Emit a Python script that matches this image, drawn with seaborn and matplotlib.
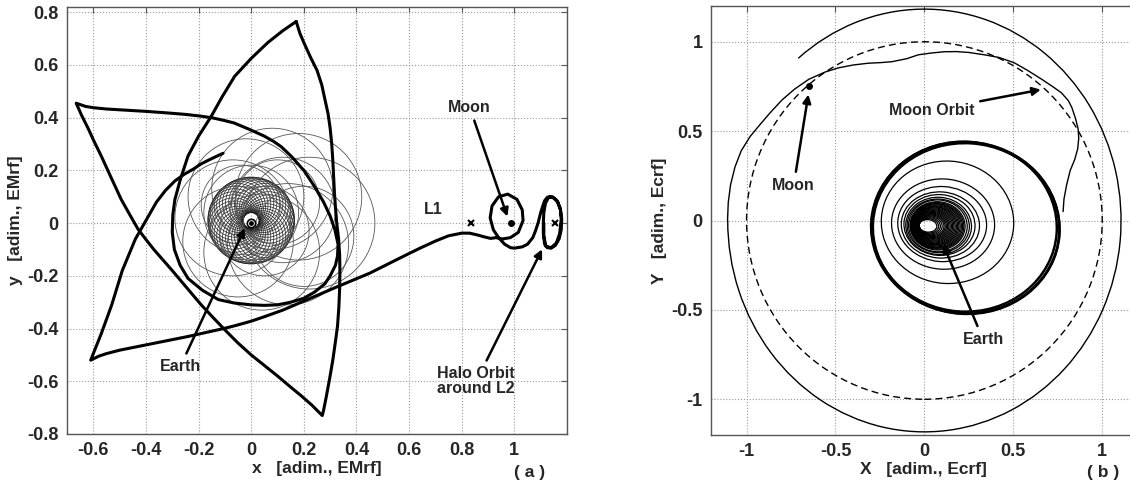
import numpy as np
import pandas as pd
import matplotlib
matplotlib.use("Agg")
import matplotlib.pyplot as plt
from matplotlib.patches import Circle, Ellipse, Arc
import seaborn as sns

# ---------------- panel (a): Earth-Moon rotating frame ----------------
# loop through the three cusps (top -> bottom -> left -> around Earth -> top)
loop_x = [0.171, 0.185, 0.20, 0.225, 0.25, 0.268, 0.28, 0.292, 0.30, 0.306, 0.31, 0.313, 0.316, 0.32, 0.325,
          0.332, 0.336, 0.337, 0.336, 0.333, 0.328, 0.32, 0.31, 0.298, 0.285, 0.275, 0.27,
          0.23, 0.19, 0.145, 0.10, 0.05, 0.0, -0.05, -0.10, -0.145, -0.19, -0.245, -0.30, -0.335, -0.37, -0.40,
          -0.43, -0.462, -0.494, -0.532, -0.57, -0.597, -0.62, -0.645, -0.665,
          -0.63, -0.60, -0.55, -0.50, -0.45, -0.40, -0.33, -0.255, -0.20, -0.15, -0.105, -0.065, -0.01, 0.05,
          0.085, 0.114, 0.152, 0.20, 0.24, 0.275, 0.30, 0.318, 0.33, 0.328, 0.32, 0.30, 0.28, 0.24, 0.20, 0.15,
          0.10, 0.05, 0.0, -0.065, -0.125, -0.185, -0.24, -0.27, -0.292, -0.30, -0.298, -0.29, -0.268, -0.24,
          -0.20, -0.152, -0.11, -0.063, 0.0, 0.063, 0.12, 0.171]
loop_y = [0.765, 0.72, 0.685, 0.63, 0.58, 0.525, 0.47, 0.415, 0.36, 0.30, 0.24, 0.18, 0.12, 0.06, 0.0,
          -0.06, -0.12, -0.18, -0.25, -0.32, -0.39, -0.45, -0.52, -0.59, -0.66, -0.71, -0.73,
          -0.69, -0.655, -0.618, -0.58, -0.54, -0.50, -0.455, -0.405, -0.358, -0.31, -0.245, -0.18, -0.14, -0.10,
          -0.062, -0.023, 0.033, 0.09, 0.172, 0.255, 0.31, 0.36, 0.41, 0.455,
          0.443, 0.438, 0.433, 0.43, 0.427, 0.424, 0.419, 0.413, 0.407, 0.40, 0.39, 0.38, 0.357, 0.33,
          0.31, 0.29, 0.254, 0.20, 0.14, 0.08, 0.027, -0.025, -0.08, -0.125, -0.16, -0.20, -0.23, -0.262, -0.285,
          -0.30, -0.31, -0.312, -0.31, -0.303, -0.29, -0.255, -0.21, -0.16, -0.10, -0.035, 0.03, 0.09, 0.17,
          0.255, 0.33, 0.405, 0.48, 0.557, 0.625, 0.685, 0.73, 0.765]

# arm to the lower-left cusp, then transfer to the Moon and the halo orbit
arm_x = [-0.107, -0.135, -0.16, -0.19, -0.22, -0.255, -0.29, -0.325, -0.36, -0.40, -0.44, -0.465, -0.49,
         -0.51, -0.53, -0.55, -0.57, -0.59, -0.61,
         -0.58, -0.55, -0.50, -0.44, -0.39, -0.34, -0.29, -0.24, -0.195, -0.15, -0.105, -0.065, 0.0, 0.05,
         0.12, 0.19, 0.26, 0.33, 0.39, 0.45, 0.51, 0.57, 0.635, 0.70, 0.75, 0.80, 0.83, 0.86, 0.885, 0.91,
         0.93, 0.955, 0.985, 1.015, 1.033, 1.03, 1.01, 0.975, 0.94, 0.915, 0.908, 0.92, 0.94, 0.963, 0.985,
         1.0, 1.03, 1.05, 1.07, 1.08, 1.09, 1.10, 1.108, 1.115, 1.125, 1.135, 1.15, 1.165, 1.175, 1.18,
         1.178, 1.17, 1.155, 1.14, 1.125, 1.115, 1.11, 1.11, 1.112, 1.118, 1.13, 1.145, 1.162, 1.175, 1.178,
         1.172, 1.16, 1.14, 1.12, 1.112, 1.112]
arm_y = [0.265, 0.252, 0.24, 0.225, 0.205, 0.185, 0.16, 0.125, 0.08, 0.01, -0.06, -0.12, -0.18,
         -0.245, -0.31, -0.365, -0.42, -0.47, -0.52,
         -0.505, -0.495, -0.482, -0.47, -0.46, -0.45, -0.44, -0.43, -0.42, -0.41, -0.40, -0.39, -0.372, -0.355,
         -0.33, -0.30, -0.27, -0.24, -0.215, -0.19, -0.16, -0.13, -0.098, -0.068, -0.048, -0.038, -0.038, -0.045,
         -0.052, -0.058,
         -0.055, -0.06, -0.055, -0.035, 0.01, 0.05, 0.09, 0.11, 0.10, 0.065, 0.02, -0.025, -0.055, -0.08, -0.093,
         -0.095, -0.09, -0.08, -0.055, -0.03, 0.0, 0.04, 0.065, 0.085, 0.098, 0.10, 0.095, 0.08, 0.05, 0.015,
         -0.025, -0.06, -0.085, -0.095, -0.093, -0.08, -0.04, 0.0, 0.04, 0.075, 0.098, 0.10, 0.085, 0.055, 0.015,
         -0.04, -0.075, -0.093, -0.088, -0.05, 0.0]

# thin rosette around Earth
inner_angle = [0, 10, 20, 30, 40, 50, 60, 70, 80, 90, 100, 110, 120, 130, 140, 150, 160, 170,
               180, 190, 200, 210, 220, 230, 240, 250, 260, 270, 280, 290, 300, 310, 320, 330, 340, 350]
inner_r = 0.0975
inner_d = 0.0675
outer_cx = [0.22, 0.18, 0.08, -0.02, -0.07, -0.05, 0.04, 0.14, 0.12, 0.00, 0.05, 0.10, 0.20, -0.04]
outer_cy = [0.00, 0.10, 0.13, 0.10, 0.02, -0.07, -0.11, -0.08, 0.05, 0.04, -0.03, 0.08, -0.05, 0.07]
outer_r = [0.25, 0.24, 0.23, 0.22, 0.22, 0.21, 0.22, 0.23, 0.20, 0.18, 0.17, 0.16, 0.19, 0.15]

earth_a = (0.0, 0.0)
moon_a = (0.988, 0.0)
l1_x, l2_x = 0.837, 1.156

# ---------------- panel (b): Earth-centred frame ----------------
outer_bx = [0.78, 0.785, 0.80, 0.82, 0.845, 0.862, 0.868, 0.865, 0.85, 0.83, 0.81, 0.77, 0.72, 0.66, 0.58,
            0.506, 0.42, 0.337, 0.25, 0.18, 0.11, 0.04, -0.034, -0.10, -0.185, -0.25, -0.315, -0.40, -0.483,
            -0.56, -0.65, -0.73, -0.80, -0.87, -0.93, -0.98, -1.03, -1.065, -1.09, -1.103, -1.107]
outer_by = [0.05, 0.12, 0.20, 0.28, 0.34, 0.40, 0.46, 0.51, 0.57, 0.63, 0.67, 0.715, 0.75, 0.79, 0.84,
            0.882, 0.912, 0.927, 0.94, 0.945, 0.944, 0.937, 0.927, 0.905, 0.888, 0.883, 0.88, 0.87, 0.854,
            0.83, 0.79, 0.735, 0.675, 0.60, 0.53, 0.47, 0.39, 0.30, 0.20, 0.10, 0.0]
# outer closing arc (ellipse centre, size, start and end angle in degrees)
arc_c = (0.0, 0.0)
arc_w, arc_h = 2.212, 2.365
arc_t1, arc_t2 = 180, 128

ring_w = [1.06, 1.05, 1.04, 0.745, 0.58, 0.50, 0.44, 0.40, 0.37, 0.35, 0.33, 0.31, 0.30, 0.29, 0.28, 0.27,
          0.26, 0.25, 0.24, 0.23, 0.22, 0.21, 0.20, 0.19, 0.18, 0.17, 0.16, 0.15, 0.14, 0.13, 0.12, 0.11, 0.10]
ring_h = [0.96, 0.955, 0.95, 0.685, 0.505, 0.42, 0.37, 0.34, 0.32, 0.30, 0.29, 0.27, 0.26, 0.25, 0.245, 0.235,
          0.225, 0.215, 0.21, 0.20, 0.19, 0.18, 0.17, 0.16, 0.15, 0.14, 0.13, 0.12, 0.11, 0.10, 0.09, 0.08, 0.07]
ring_cx = [0.23, 0.235, 0.225, 0.13, 0.105, 0.10, 0.09, 0.085, 0.08, 0.078, 0.076, 0.074, 0.072, 0.07, 0.068,
           0.066, 0.064, 0.062, 0.06, 0.058, 0.056, 0.054, 0.052, 0.05, 0.048, 0.046, 0.044, 0.042, 0.04,
           0.035, 0.03, 0.025, 0.02]
ring_cy = [-0.04, -0.045, -0.035, -0.01, -0.02, -0.02, -0.025, -0.025, -0.03, -0.03, -0.03, -0.03, -0.03, -0.03,
           -0.03, -0.03, -0.03, -0.03, -0.03, -0.03, -0.03, -0.03, -0.03, -0.03, -0.03, -0.03, -0.03, -0.03,
           -0.03, -0.03, -0.03, -0.03, -0.03]
moon_b = (-0.65, 0.755)

sns.set_style("whitegrid")
plt.rcParams['font.family'] = ['Liberation Sans', 'DejaVu Sans']
plt.rcParams['font.weight'] = 'bold'
plt.rcParams['font.size'] = 11

fig = plt.figure(figsize=(11.3, 4.84), dpi=100)
ax1 = fig.add_axes([67 / 1130, 50 / 484, 500 / 1130, 427 / 484])
ax2 = fig.add_axes([711 / 1130, 49 / 484, 425 / 1130, 429 / 484])


def style(ax):
    ax.grid(True, linestyle=':', color='#9a9a9a', lw=0.8)
    for s in ax.spines.values():
        s.set_color('#555555')
        s.set_linewidth(1.0)
    ax.tick_params(direction='in', top=True, right=True, length=4, color='#555555',
                   labelsize=13, pad=6)
    for lab in ax.get_xticklabels() + ax.get_yticklabels():
        lab.set_fontweight('bold')


# panel (a)
for ang in inner_angle:
    t = np.deg2rad(ang)
    ax1.add_patch(Circle((inner_d * np.cos(t), 0.01 + inner_d * np.sin(t)), inner_r,
                         fill=False, ec='#222222', lw=0.5))
for cx, cy, r in zip(outer_cx, outer_cy, outer_r):
    ax1.add_patch(Circle((cx, cy), r, fill=False, ec='#555555', lw=0.6))

df_loop = pd.DataFrame({'x': loop_x, 'y': loop_y})
df_arm = pd.DataFrame({'x': arm_x, 'y': arm_y})
sns.lineplot(data=df_loop, x='x', y='y', sort=False, estimator=None, color='k', lw=2.2, ax=ax1)
sns.lineplot(data=df_arm, x='x', y='y', sort=False, estimator=None, color='k', lw=2.2, ax=ax1)

ax1.plot(*earth_a, 'o', ms=6, mfc='white', mec='k', mew=1.2)
ax1.plot(*earth_a, 'o', ms=2.5, color='k')
ax1.plot(*moon_a, 'o', ms=4, color='k')
ax1.plot([l1_x, l2_x], [0, 0], 'x', ms=5, mew=1.5, color='k')

arrow = dict(arrowstyle='-|>', color='k', lw=1.8, mutation_scale=12)
ax1.annotate('Moon', xy=(0.977, 0.015), xytext=(0.83, 0.44), ha='center', va='center',
             fontweight='bold', fontsize=11.5, arrowprops=arrow)
ax1.annotate('Earth', xy=(-0.02, -0.01), xytext=(-0.27, -0.545), ha='center', va='center',
             fontweight='bold', fontsize=11.5, arrowprops=arrow)
ax1.annotate('Halo Orbit\naround L2', xy=(1.11, -0.09), xytext=(0.855, -0.60), ha='center', va='center',
             fontweight='bold', fontsize=11.5, linespacing=1.0, arrowprops=arrow)
ax1.text(0.69, 0.05, 'L1', ha='center', va='center', fontweight='bold', fontsize=11.5)

ax1.set_xlim(-0.7, 1.2)
ax1.set_ylim(-0.8, 0.82)
ax1.set_xticks([-0.6, -0.4, -0.2, 0, 0.2, 0.4, 0.6, 0.8, 1])
ax1.set_xticklabels(['-0.6', '-0.4', '-0.2', '0', '0.2', '0.4', '0.6', '0.8', '1'])
ax1.set_yticks([-0.8, -0.6, -0.4, -0.2, 0, 0.2, 0.4, 0.6, 0.8])
ax1.set_yticklabels(['-0.8', '-0.6', '-0.4', '-0.2', '0', '0.2', '0.4', '0.6', '0.8'])
ax1.set_xlabel('x   [adim., EMrf]', fontweight='bold', fontsize=12.5, labelpad=1)
ax1.set_ylabel('y   [adim., EMrf]', fontweight='bold', fontsize=12.5, labelpad=3)
style(ax1)
fig.text(530 / 1130, 1 - 473 / 484, '( a )', ha='center', va='center', fontweight='bold', fontsize=12.5)

# panel (b)
ax2.add_patch(Circle((0, 0), 1.0, fill=False, ec='k', lw=1.0, ls=(0, (5, 3))))
for i, (w, h, cx, cy) in enumerate(zip(ring_w, ring_h, ring_cx, ring_cy)):
    ax2.add_patch(Ellipse((cx, cy), w, h, angle=-4, fill=False, ec='k', lw=1.8 if i < 3 else 0.9))
df_b = pd.DataFrame({'x': outer_bx, 'y': outer_by})
sns.lineplot(data=df_b, x='x', y='y', sort=False, estimator=None, color='k', lw=1.0, ax=ax2)
ax2.add_patch(Arc(arc_c, arc_w, arc_h, theta1=arc_t1, theta2=arc_t2, ec='k', lw=1.0))
ax2.plot(*moon_b, 'o', ms=4, color='k')

ax2.annotate('Moon', xy=(-0.65, 0.72), xytext=(-0.735, 0.197), ha='center', va='center',
             fontweight='bold', fontsize=11.5, arrowprops=arrow)
ax2.annotate('Moon Orbit', xy=(0.67, 0.735), xytext=(0.28, 0.615), ha='right', va='center',
             fontweight='bold', fontsize=11.5, arrowprops=arrow)
ax2.annotate('Earth', xy=(0.10, -0.12), xytext=(0.33, -0.665), ha='center', va='center',
             fontweight='bold', fontsize=11.5, arrowprops=arrow)

ax2.set_xlim(-1.2, 1.19)
ax2.set_ylim(-1.2, 1.2)
ax2.set_xticks([-1, -0.5, 0, 0.5, 1])
ax2.set_xticklabels(['-1', '-0.5', '0', '0.5', '1'])
ax2.set_yticks([-1, -0.5, 0, 0.5, 1])
ax2.set_yticklabels(['-1', '-0.5', '0', '0.5', '1'])
ax2.set_xlabel('X   [adim., Ecrf]', fontweight='bold', fontsize=12.5, labelpad=1)
ax2.set_ylabel('Y   [adim., Ecrf]', fontweight='bold', fontsize=12.5, labelpad=3)
style(ax2)
fig.text(1103 / 1130, 1 - 473 / 484, '( b )', ha='center', va='center', fontweight='bold', fontsize=12.5)

fig.savefig('out.png', dpi=100)
